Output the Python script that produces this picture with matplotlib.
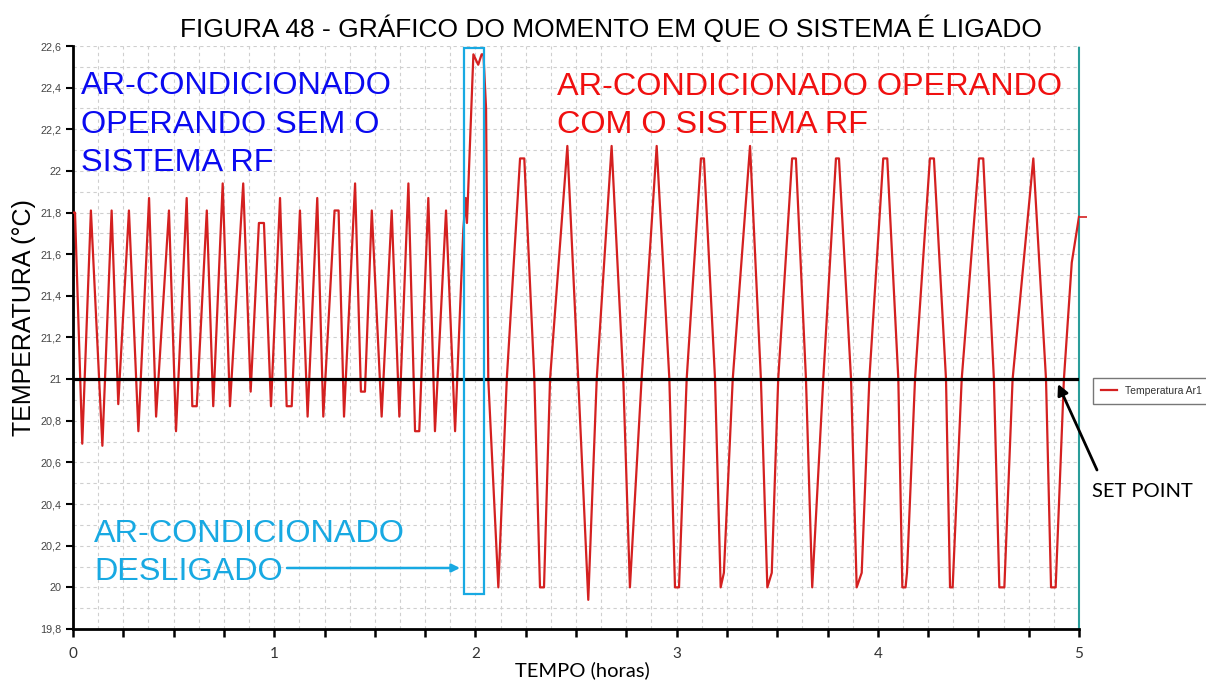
import matplotlib
matplotlib.use("Agg")
import matplotlib.pyplot as plt
from matplotlib.ticker import MultipleLocator, FuncFormatter
from matplotlib.patches import Rectangle

# ---------------- data ----------------
time_h = [
    0.000, 0.010, 0.046, 0.089, 0.146, 0.192, 0.225, 0.278, 0.325, 0.378,
    0.413, 0.477, 0.512, 0.565, 0.593, 0.615, 0.665, 0.697, 0.744, 0.780,
    0.846, 0.883, 0.924, 0.949, 0.984, 1.029, 1.062, 1.087, 1.128, 1.166,
    1.214, 1.244, 1.300, 1.320, 1.347, 1.402, 1.431, 1.451, 1.485, 1.534,
    1.584, 1.622, 1.667, 1.700, 1.721, 1.766, 1.799, 1.854, 1.899,
    1.940, 1.952, 1.958, 1.990, 2.014, 2.031, 2.040, 2.053, 2.064, 2.114,
    2.156, 2.222, 2.243, 2.293, 2.321, 2.341, 2.371, 2.457, 2.511, 2.561,
    2.603, 2.677, 2.735, 2.768, 2.826, 2.901, 2.964, 2.992, 3.012, 3.050,
    3.121, 3.136, 3.191, 3.219, 3.235, 3.279, 3.365, 3.419, 3.451, 3.473,
    3.505, 3.574, 3.593, 3.643, 3.674, 3.729, 3.792, 3.807, 3.867, 3.895,
    3.920, 3.958, 4.027, 4.047, 4.102, 4.122, 4.138, 4.145, 4.185, 4.259,
    4.279, 4.339, 4.359, 4.372, 4.417, 4.503, 4.524, 4.577, 4.604, 4.629,
    4.670, 4.773, 4.836, 4.861, 4.884, 4.925, 4.964, 5.000,
]
temp_c = [
    21.80, 21.80, 20.69, 21.81, 20.68, 21.81, 20.88, 21.81, 20.75, 21.87,
    20.82, 21.81, 20.75, 21.87, 20.87, 20.87, 21.81, 20.87, 21.94, 20.87,
    21.94, 20.94, 21.75, 21.75, 20.87, 21.87, 20.87, 20.87, 21.81, 20.82,
    21.87, 20.82, 21.81, 21.81, 20.82, 21.94, 20.94, 20.94, 21.81, 20.82,
    21.81, 20.82, 21.94, 20.75, 20.75, 21.87, 20.75, 21.81, 20.75,
    21.72, 21.87, 21.75, 22.56, 22.51, 22.56, 22.56, 22.30, 21.00, 20.00,
    21.00, 22.06, 22.06, 21.00, 20.00, 20.00, 21.00, 22.12, 21.00, 19.94,
    21.00, 22.12, 21.00, 20.00, 21.00, 22.12, 21.00, 20.00, 20.00, 21.00,
    22.06, 22.06, 21.00, 20.00, 20.07, 21.00, 22.12, 21.00, 20.00, 20.07,
    21.00, 22.06, 22.06, 21.00, 20.00, 21.00, 22.06, 22.06, 21.00, 20.00,
    20.07, 21.00, 22.06, 22.06, 21.00, 20.00, 20.00, 20.07, 21.00, 22.06,
    22.06, 21.00, 20.00, 20.00, 21.00, 22.06, 22.06, 21.00, 20.00, 20.00,
    21.00, 22.06, 21.00, 20.00, 20.00, 21.00, 21.56, 21.78,
]
series_name = "Temperatura Ar1"
set_point = 21.0
off_window = [1.943, 2.045]          # "ar-condicionado desligado" window (h)
off_window_temp = [19.97, 22.59]
x_limits = [0, 5]
y_limits = [19.8, 22.6]

title = "FIGURA 48 - GRÁFICO DO MOMENTO EM QUE O SISTEMA É LIGADO"
x_label = "TEMPO (horas)"
y_label = "TEMPERATURA (°C)"
note_without = ["AR-CONDICIONADO", "OPERANDO SEM O", "SISTEMA RF"]
note_with = ["AR-CONDICIONADO OPERANDO", "COM O SISTEMA RF"]
note_off = ["AR-CONDICIONADO", "DESLIGADO"]
note_sp = "SET POINT"

# ---------------- styling ----------------
W, H, DPI = 1206, 682, 100
RED = "#d42020"
BLUE = "#0a0af0"
TXT_RED = "#f01010"
CYAN = "#18a9e2"
TEAL = "#2a9d9a"
ARIAL = ["Liberation Sans", "DejaVu Sans"]
CALIBRI = ["Lato", "DejaVu Sans"]

fig = plt.figure(figsize=(W / DPI, H / DPI), dpi=DPI)
ax = fig.add_axes([73 / W, 1 - 629 / H, (1079 - 73) / W, (629 - 46) / H])

ax.plot(time_h, temp_c, color=RED, lw=1.6, zorder=3, label=series_name)
ax.plot(time_h[-1:], temp_c[-1:], color=RED, marker=1, markersize=6,
        markeredgewidth=1.2, clip_on=False, zorder=3)
ax.axhline(set_point, color="black", lw=2.3, zorder=4)
ax.add_patch(Rectangle((off_window[0], off_window_temp[0]),
                       off_window[1] - off_window[0],
                       off_window_temp[1] - off_window_temp[0],
                       fill=False, edgecolor=CYAN, lw=1.6, zorder=5))

ax.set_xlim(*x_limits)
ax.set_ylim(*y_limits)

ax.xaxis.set_major_locator(MultipleLocator(0.25))
ax.xaxis.set_minor_locator(MultipleLocator(0.125))
ax.yaxis.set_major_locator(MultipleLocator(0.2))
ax.yaxis.set_minor_locator(MultipleLocator(0.1))


def xfmt(v, _):
    return f"{int(round(v))}" if abs(v - round(v)) < 1e-6 else ""


def yfmt(v, _):
    if abs(v - round(v)) < 1e-6:
        return f"{int(round(v))}"
    return f"{v:.1f}".replace(".", ",")


ax.xaxis.set_major_formatter(FuncFormatter(xfmt))
ax.yaxis.set_major_formatter(FuncFormatter(yfmt))

ax.grid(True, which="both", color="#cfcfcf", lw=0.8, ls=(0, (3, 3)), zorder=0)
ax.tick_params(axis="x", which="major", length=6, width=1.8, color="black",
               pad=7, labelsize=11, labelcolor="#333333")
ax.tick_params(axis="y", which="major", length=5, width=1.5, color="black",
               pad=3, labelsize=7.8, labelcolor="#444444")
ax.tick_params(which="minor", length=0)
for lab in ax.get_xticklabels():
    lab.set_family(CALIBRI)
for lab in ax.get_yticklabels():
    lab.set_family(ARIAL)

ax.spines["top"].set_visible(False)
ax.spines["left"].set_linewidth(2)
ax.spines["bottom"].set_linewidth(2)
ax.spines["right"].set_color(TEAL)
ax.spines["right"].set_linewidth(1.5)
ax.spines["right"].set_linestyle((0, (4, 1)))


def fx(x):
    return x / W


def fy(y):
    return 1 - y / H


fig.text(fx(611), fy(37), title, ha="center", va="baseline",
         fontsize=19, family=ARIAL, color="black")
fig.text(fx(24), fy(318), y_label, ha="center", va="center", rotation=90,
         fontsize=18, family=ARIAL, color="black")
fig.text(fx(582), fy(676), x_label, ha="center", va="baseline",
         fontsize=14.5, family=CALIBRI, color="black")

for line, base in zip(note_without, [94, 133, 171]):
    fig.text(fx(81), fy(base), line, ha="left", va="baseline",
             fontsize=23.3, family=ARIAL, color=BLUE)
for line, base in zip(note_with, [95, 133]):
    fig.text(fx(557), fy(base), line, ha="left", va="baseline",
             fontsize=23.3, family=ARIAL, color=TXT_RED)
for line, base in zip(note_off, [542, 580]):
    fig.text(fx(94), fy(base), line, ha="left", va="baseline",
             fontsize=23.3, family=ARIAL, color=CYAN)

ax.annotate("", xy=(460, H - 568), xytext=(287, H - 568),
            xycoords="figure pixels", textcoords="figure pixels",
            arrowprops=dict(arrowstyle="-|>", color=CYAN, lw=1.8,
                            mutation_scale=12, shrinkA=0, shrinkB=0))

fig.text(fx(1092), fy(497), note_sp, ha="left", va="baseline",
         fontsize=14.5, family=CALIBRI, color="black")
ax.annotate("", xy=(1058, H - 384), xytext=(1097, H - 470),
            xycoords="figure pixels", textcoords="figure pixels",
            arrowprops=dict(arrowstyle="-|>", color="black", lw=2,
                            mutation_scale=16, shrinkA=0, shrinkB=0))

leg = fig.legend(loc="center left", bbox_to_anchor=(fx(1093), fy(391)),
                 frameon=True, fancybox=False,
                 prop={"family": ARIAL, "size": 7.5},
                 handlelength=1.5, handletextpad=0.8, borderpad=0.8,
                 borderaxespad=0)
leg.get_frame().set_edgecolor("#555555")
leg.get_frame().set_linewidth(1)
for t in leg.get_texts():
    t.set_color("#333333")

fig.savefig("out.png", dpi=DPI)
